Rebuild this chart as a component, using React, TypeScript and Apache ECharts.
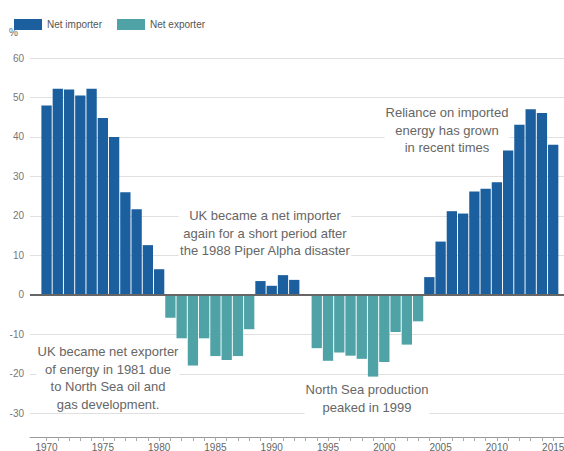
import React, { useEffect, useRef } from "react";
import * as echarts from "echarts";

const years = [
  1970, 1971, 1972, 1973, 1974, 1975, 1976, 1977, 1978, 1979,
  1980, 1981, 1982, 1983, 1984, 1985, 1986, 1987, 1988, 1989,
  1990, 1991, 1992, 1993, 1994, 1995, 1996, 1997, 1998, 1999,
  2000, 2001, 2002, 2003, 2004, 2005, 2006, 2007, 2008, 2009,
  2010, 2011, 2012, 2013, 2014, 2015,
];
const dependency = [
  48.0, 52.2, 52.0, 50.5, 52.2, 44.8, 40.0, 26.0, 21.7, 12.6,
  6.5, -5.8, -11.0, -17.9, -11.0, -15.5, -16.5, -15.5, -8.7, 3.5,
  2.3, 5.0, 3.8, 0, -13.5, -16.7, -14.6, -15.4, -16.2, -20.7,
  -17.0, -9.4, -12.6, -6.7, 4.5, 13.5, 21.2, 20.6, 26.2, 26.9,
  28.5, 36.6, 43.1, 47.0, 46.1, 38.0,
];
const xLabelYears = [1970, 1975, 1980, 1985, 1990, 1995, 2000, 2005, 2010, 2015];
const yTicks = [-30, -20, -10, 0, 10, 20, 30, 40, 50, 60];
const seriesNames = ["Net importer", "Net exporter"];

const FONT = "'Liberation Sans', Arial, Helvetica, sans-serif";

export default function App() {
  const ref = useRef<HTMLDivElement>(null);
  useEffect(() => {
    if (!ref.current) return;
    const chart = echarts.init(ref.current, null, { renderer: "svg" });
    const importer = years
      .map((y, i) => [y, dependency[i]])
      .filter((d) => (d[1] as number) > 0);
    const exporter = years
      .map((y, i) => [y, dependency[i]])
      .filter((d) => (d[1] as number) < 0);
    const xMin = 1968.53;
    const xMax = 2015.96;
    const annot = (x: number, y: number, text: string) => ({
      type: "text",
      x,
      y,
      z: 1,
      style: {
        text,
        fill: "#666",
        font: `13px ${FONT}`,
        textAlign: "center",
        textVerticalAlign: "top",
        lineHeight: 17.5,
        backgroundColor: "#fff",
        padding: [0, 1],
      },
      silent: true,
    });
    chart.setOption({
      animation: false,
      textStyle: { fontFamily: FONT },
      grid: {
        left: 30,
        right: 0,
        top: 58,
        bottom: 14,
        containLabel: false,
        outerBoundsMode: "none",
      },
      legend: {
        data: seriesNames,
        left: 9,
        top: 14,
        itemWidth: 28,
        itemHeight: 11,
        itemGap: 15,
        icon: "rect",
        textStyle: {
          fontSize: 10,
          color: "#555",
          fontFamily: FONT,
          padding: [0, 0, 9, 0],
        },
      },
      xAxis: {
        type: "value",
        min: xMin,
        max: xMax,
        axisLine: { show: true, onZero: false, lineStyle: { color: "#999", width: 1 } },
        axisTick: {
          show: true,
          length: 4,
          lineStyle: { color: "#aaa" },
          customValues: years,
        },
        axisLabel: {
          customValues: xLabelYears,
          color: "#666",
          fontSize: 10,
          margin: 5,
          formatter: (v: number) => String(Math.round(v)),
        },
        splitLine: { show: false },
      },
      yAxis: {
        type: "value",
        min: -36,
        max: 60,
        axisLine: { show: false },
        axisTick: { show: false, customValues: yTicks },
        axisLabel: {
          customValues: yTicks,
          color: "#777",
          fontSize: 10,
          margin: 6,
        },
        splitLine: { show: true, lineStyle: { color: "#e0e0e0", width: 1 } },
      },
      graphic: [
        {
          type: "text",
          left: 9,
          top: 27,
          style: { text: "%", fill: "#666", font: `10px ${FONT}` },
        },
        annot(108, 343, "UK became net exporter\nof energy in 1981 due\nto North Sea oil and\ngas development."),
        annot(265, 207, "UK became a net importer\nagain for a short period after\nthe 1988 Piper Alpha disaster"),
        annot(447, 104, "Reliance on imported\nenergy has grown\nin recent times"),
        annot(367, 381, "North Sea production\npeaked in 1999"),
      ],
      series: [
        {
          name: seriesNames[0],
          type: "bar",
          data: importer,
          barWidth: 10.3,
          barGap: "-100%",
          itemStyle: { color: "#1b5f9f" },
          markLine: {
            silent: true,
            symbol: ["none", "none"],
            label: { show: false },
            lineStyle: { color: "#666", width: 2, type: "solid" },
            data: [{ yAxis: 0 }],
          },
          z: 2,
        },
        {
          name: seriesNames[1],
          type: "bar",
          data: exporter,
          barWidth: 10.3,
          barGap: "-100%",
          itemStyle: { color: "#4fa3a6" },
          z: 2,
        },
      ],
    });
    return () => chart.dispose();
  }, []);
  return (
    <div
      ref={ref}
      style={{ position: "fixed", left: 0, top: 0, width: 564, height: 451, background: "#fff" }}
    />
  );
}
